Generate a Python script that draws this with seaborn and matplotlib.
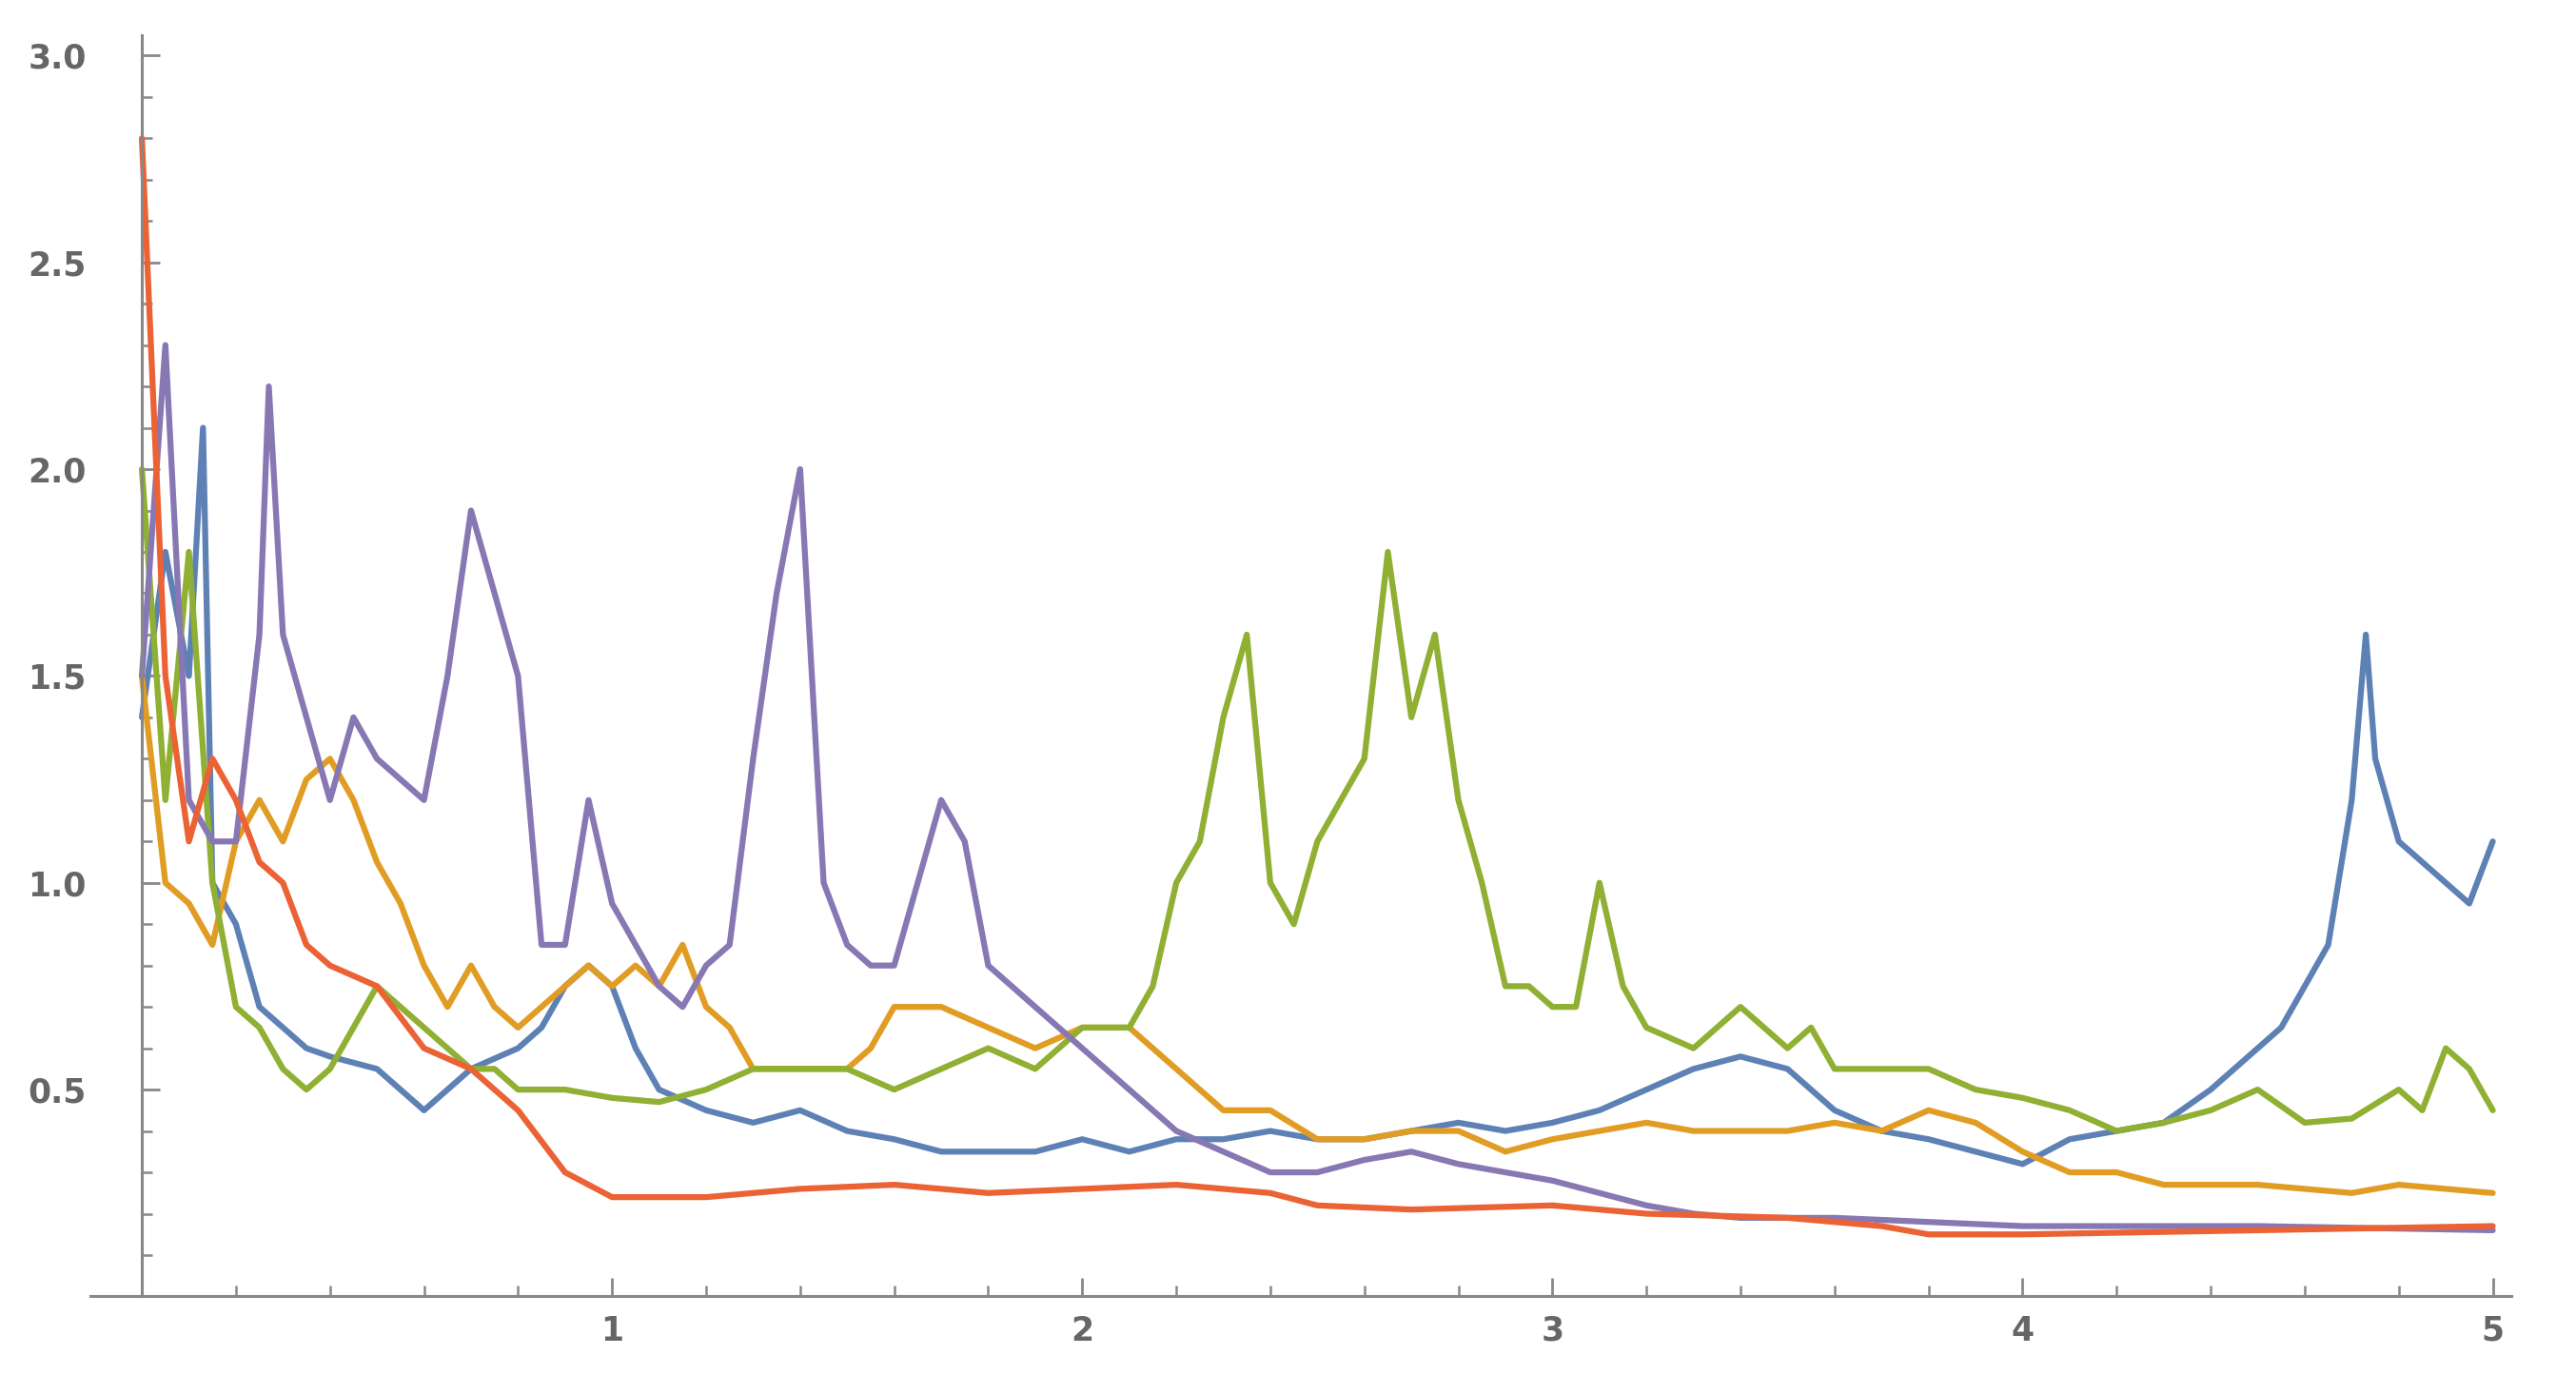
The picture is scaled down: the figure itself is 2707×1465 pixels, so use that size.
import numpy as np
import pandas as pd
import matplotlib
matplotlib.use("Agg")
import matplotlib.pyplot as plt
import seaborn as sns
from matplotlib.ticker import MultipleLocator

# values, (t, value) per path
blue_t = [0, .05, .1, .13, .15, .2, .25, .3, .35, .4, .5, .55, .6, .65, .7, .8, .85, .9, .95, 1.0,
          1.05, 1.1, 1.2, 1.3, 1.4, 1.5, 1.6, 1.7, 1.8, 1.9, 2.0, 2.1, 2.2, 2.3, 2.4, 2.5, 2.6, 2.7,
          2.8, 2.9, 3.0, 3.1, 3.2, 3.3, 3.4, 3.5, 3.6, 3.7, 3.8, 3.9, 4.0, 4.1, 4.2, 4.3, 4.4, 4.5,
          4.55, 4.6, 4.65, 4.7, 4.73, 4.75, 4.8, 4.85, 4.9, 4.95, 5.0]
blue_v = [1.4, 1.8, 1.5, 2.1, 1.0, .9, .7, .65, .6, .58, .55, .5, .45, .5, .55, .6, .65, .75, .8, .75,
          .6, .5, .45, .42, .45, .4, .38, .35, .35, .35, .38, .35, .38, .38, .4, .38, .38, .4,
          .42, .4, .42, .45, .5, .55, .58, .55, .45, .4, .38, .35, .32, .38, .4, .42, .5, .6,
          .65, .75, .85, 1.2, 1.6, 1.3, 1.1, 1.05, 1.0, .95, 1.1]

orange_t = [0, .05, .1, .15, .2, .25, .3, .35, .4, .45, .5, .55, .6, .65, .7, .75, .8, .85, .9, .95,
            1.0, 1.05, 1.1, 1.15, 1.2, 1.25, 1.3, 1.4, 1.5, 1.55, 1.6, 1.65, 1.7, 1.8, 1.9, 2.0,
            2.1, 2.2, 2.3, 2.4, 2.5, 2.6, 2.7, 2.8, 2.9, 3.0, 3.1, 3.2, 3.3, 3.4, 3.5, 3.6, 3.7,
            3.8, 3.9, 4.0, 4.1, 4.2, 4.3, 4.5, 4.7, 4.8, 5.0]
orange_v = [1.5, 1.0, .95, .85, 1.1, 1.2, 1.1, 1.25, 1.3, 1.2, 1.05, .95, .8, .7, .8, .7, .65, .7, .75, .8,
            .75, .8, .75, .85, .7, .65, .55, .55, .55, .6, .7, .7, .7, .65, .6, .65,
            .65, .55, .45, .45, .38, .38, .4, .4, .35, .38, .4, .42, .4, .4, .4, .42, .4,
            .45, .42, .35, .3, .3, .27, .27, .25, .27, .25]

green_t = [0, .05, .1, .15, .2, .25, .3, .35, .4, .45, .5, .55, .6, .65, .7, .75, .8, .9, 1.0, 1.1,
           1.2, 1.3, 1.4, 1.5, 1.6, 1.7, 1.8, 1.9, 2.0, 2.1, 2.15, 2.2, 2.25, 2.3, 2.35, 2.4, 2.45,
           2.5, 2.55, 2.6, 2.65, 2.7, 2.75, 2.8, 2.85, 2.9, 2.95, 3.0, 3.05, 3.1, 3.15, 3.2, 3.3,
           3.4, 3.5, 3.55, 3.6, 3.7, 3.8, 3.9, 4.0, 4.1, 4.2, 4.3, 4.4, 4.5, 4.6, 4.7, 4.8, 4.85,
           4.9, 4.95, 5.0]
green_v = [2.0, 1.2, 1.8, 1.0, .7, .65, .55, .5, .55, .65, .75, .7, .65, .6, .55, .55, .5, .5, .48, .47,
           .5, .55, .55, .55, .5, .55, .6, .55, .65, .65, .75, 1.0, 1.1, 1.4, 1.6, 1.0, .9,
           1.1, 1.2, 1.3, 1.8, 1.4, 1.6, 1.2, 1.0, .75, .75, .7, .7, 1.0, .75, .65, .6,
           .7, .6, .65, .55, .55, .55, .5, .48, .45, .4, .42, .45, .5, .42, .43, .5, .45,
           .6, .55, .45]

red_t = [0, .05, .1, .15, .2, .25, .3, .35, .4, .5, .6, .7, .8, .9, 1.0, 1.2, 1.4, 1.6, 1.8, 2.0,
         2.2, 2.3, 2.4, 2.5, 2.7, 3.0, 3.2, 3.5, 3.7, 3.8, 4.0, 4.5, 5.0]
red_v = [2.8, 1.5, 1.1, 1.3, 1.2, 1.05, 1.0, .85, .8, .75, .6, .55, .45, .3, .24, .24, .26, .27, .25, .26,
         .27, .26, .25, .22, .21, .22, .2, .19, .17, .15, .15, .16, .17]

purple_t = [0, .05, .1, .15, .2, .25, .27, .3, .35, .4, .45, .5, .55, .6, .65, .7, .75, .8, .85, .9,
            .95, 1.0, 1.05, 1.1, 1.15, 1.2, 1.25, 1.3, 1.35, 1.4, 1.45, 1.5, 1.55, 1.6, 1.65, 1.7,
            1.75, 1.8, 1.85, 1.9, 1.95, 2.0, 2.05, 2.1, 2.2, 2.3, 2.4, 2.5, 2.6, 2.7, 2.8, 2.9,
            3.0, 3.1, 3.2, 3.3, 3.4, 3.5, 3.6, 3.8, 4.0, 4.5, 5.0]
purple_v = [1.5, 2.3, 1.2, 1.1, 1.1, 1.6, 2.2, 1.6, 1.4, 1.2, 1.4, 1.3, 1.25, 1.2, 1.5, 1.9, 1.7, 1.5, .85, .85,
            1.2, .95, .85, .75, .7, .8, .85, 1.3, 1.7, 2.0, 1.0, .85, .8, .8, 1.0, 1.2,
            1.1, .8, .75, .7, .65, .6, .55, .5, .4, .35, .3, .3, .33, .35, .32, .3,
            .28, .25, .22, .2, .19, .19, .19, .18, .17, .17, .16]

series = {
    "blue": (blue_t, blue_v, "#5E81B5"),
    "orange": (orange_t, orange_v, "#E19C24"),
    "green": (green_t, green_v, "#8FB032"),
    "purple": (purple_t, purple_v, "#8778B3"),
    "red": (red_t, red_v, "#EB6235"),
}

sns.set_style("white")
fig = plt.figure(figsize=(27.07, 14.65), dpi=100)
ax = fig.add_axes([0.035, 0.07, 0.94, 0.905])

for name, (t, v, c) in series.items():
    df = pd.DataFrame({"t": t, "v": v})
    sns.lineplot(data=df, x="t", y="v", color=c, linewidth=4.5, ax=ax)

ax.set_xlim(-0.11, 5.04)
ax.set_ylim(0, 3.05)
ax.spines["left"].set_position(("data", 0))
ax.spines["top"].set_visible(False)
ax.spines["right"].set_visible(False)
for s in ("left", "bottom"):
    ax.spines[s].set_color("#888888")
    ax.spines[s].set_linewidth(2.2)

ax.xaxis.set_major_locator(MultipleLocator(1))
ax.xaxis.set_minor_locator(MultipleLocator(0.2))
ax.yaxis.set_major_locator(MultipleLocator(0.5))
ax.yaxis.set_minor_locator(MultipleLocator(0.1))
ax.set_xticks([1, 2, 3, 4, 5])
ax.set_yticks([0.5, 1.0, 1.5, 2.0, 2.5, 3.0])
ax.set_yticklabels(["0.5", "1.0", "1.5", "2.0", "2.5", "3.0"])
ax.tick_params(which="both", direction="in", color="#888888", labelcolor="#666666",
               labelsize=25, left=True, bottom=True)
ax.tick_params(which="major", length=14, width=2)
ax.tick_params(which="minor", length=8, width=1.8)
ax.tick_params(axis="y", pad=42)
ax.tick_params(axis="x", pad=14)
for lbl in ax.get_xticklabels() + ax.get_yticklabels():
    lbl.set_fontweight("bold")
ax.set_xlabel("")
ax.set_ylabel("")

fig.savefig("out.png", dpi=100)
